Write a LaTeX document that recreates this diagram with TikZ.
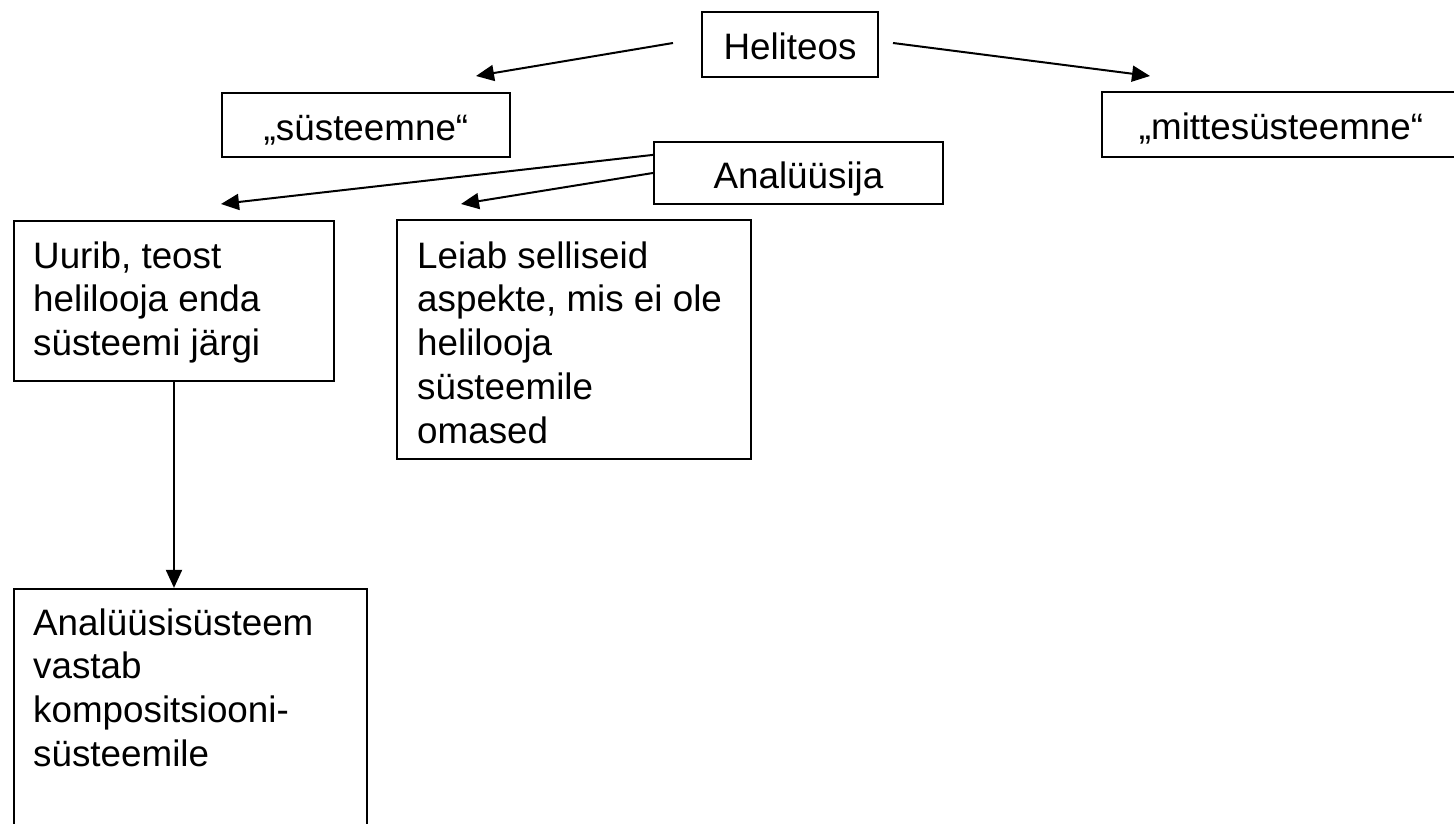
\documentclass[tikz,border=0pt]{standalone}
\usepackage{fontspec}
\setmainfont{Liberation Sans}
\usetikzlibrary{arrows.meta}

\begin{document}
\begin{tikzpicture}[x=1pt,y=-1pt,
  box/.style={draw, line width=2.2pt, inner sep=0pt},
  lbl/.style={inner sep=0pt, font=\fontsize{36.8}{43.8}\selectfont},
  link/.style={line width=2pt, -{Triangle[length=18pt,width=16pt]}}]
  \useasboundingbox (0,0) rectangle (1454,824);
  \fill[white] (0,0) rectangle (1454,824);
  \clip (0,0) rectangle (1454,824);

  % boxes
  \node[box, minimum width=176pt, minimum height=65pt]  (heliteos) at (790,44.5) {};
  \node[box, minimum width=288pt, minimum height=64pt]  (syst)     at (366,125) {};
  \node[box, minimum width=358pt, minimum height=65pt]  (mitte)    at (1281,124.5) {};
  \node[box, minimum width=289pt, minimum height=62pt]  (anal)     at (798.5,173) {};
  \node[box, minimum width=320pt, minimum height=160pt] (uurib)    at (174,301) {};
  \node[box, minimum width=354pt, minimum height=239pt] (leiab)    at (574,339.5) {};
  \node[box, minimum width=353pt, minimum height=251pt] (anasys)   at (190.5,714.5) {};

  % texts
  \node[lbl, anchor=base] (tHel)  at (790,60)   {Heliteos};
  \node[lbl, anchor=base] (tSys)  at (366,141)  {„süsteemne“};
  \node[lbl, anchor=base] (tMit)  at (1281,140) {„mittesüsteemne“};
  \node[lbl, anchor=base] (tAna)  at (798.5,188) {Analüüsija};
  \node[lbl, anchor=base west] (tUur) at (33,268)
    {\vtop{\hbox{Uurib, teost}\hbox{helilooja enda}\hbox{süsteemi järgi}}};
  \node[lbl, anchor=base west] (tLei) at (417,268)
    {\vtop{\hbox{Leiab selliseid}\hbox{aspekte, mis ei ole}\hbox{helilooja}\hbox{süsteemile}\hbox{omased}}};
  \node[lbl, anchor=base west] (tAsy) at (33,635)
    {\vtop{\hbox{Analüüsisüsteem}\hbox{vastab}\hbox{kompositsiooni-}\hbox{süsteemile}}};

  % free ends of the connectors
  \coordinate (hL)  at (673,43);
  \coordinate (hLt) at (476,76);
  \coordinate (hR)  at (893,43);
  \coordinate (hRt) at (1150,76);
  \coordinate (aU)  at ([yshift=-14pt]anal.north west);
  \coordinate (aUt) at (221,204);
  \coordinate (aLt) at (461,204);

  % connectors
  \draw[link] (hL) -- (hLt);
  \draw[link] (hR) -- (hRt);
  \draw[link] (aU) -- (aUt);
  \draw[link] (anal.west) -- (aLt);
  \draw[link] (uurib.south) -- (uurib.south |- anasys.north);
\end{tikzpicture}
\end{document}
